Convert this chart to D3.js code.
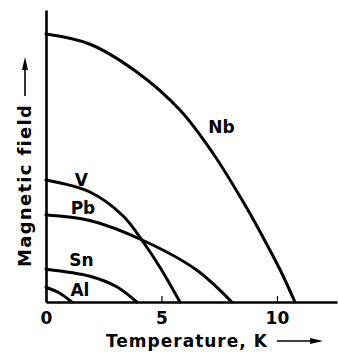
<!DOCTYPE html>
<html><head><meta charset="utf-8">
<script src="https://cdn.jsdelivr.net/npm/d3@7"></script>
<style>
html,body{margin:0;padding:0;background:#fff;}
svg text{font-family:"DejaVu Sans",sans-serif;font-weight:bold;fill:#000;}
</style></head>
<body><svg id="c" width="338" height="352"></svg>
<script>
// Temperature (K) and critical field (relative units)
const materials = ["Nb", "V", "Pb", "Sn", "Al"];
const nbT = [0, 1.88, 3.93, 5.8, 7.23, 8.7, 9.39, 10.13, 10.78];
const nbH = [107.2, 103.2, 92, 76.8, 59.5, 37.5, 26, 13, 0];
const vT  = [0, 1.9, 3.33, 4.21, 4.94, 5.8];
const vH  = [48.8, 44, 34.5, 24, 13.8, 0];
const pbT = [0, 1.9, 4.21, 6.52, 8.04];
const pbH = [34.8, 32.6, 24.6, 12.8, 0];
const snT = [0, 1.9, 3.06, 3.93];
const snH = [13.1, 10.3, 6.1, 0];
const alT = [0, 0.6, 1.11];
const alH = [5.9, 3.5, 0];
// label anchor points (T, H) for each curve name
const labelT = [7.6, 1.53, 1.6, 1.53, 1.47];
const labelH = [70, 48.8, 37.6, 16.8, 5];
const xTicks = [0, 5, 10];
const xTitle = "Temperature, K";
const yTitle = "Magnetic field";

const seriesT = [nbT, vT, pbT, snT, alT];
const seriesH = [nbH, vH, pbH, snH, alH];

const svg = d3.select("#c");
const x = d3.scaleLinear().domain([0, 12.6]).range([46, 337]);
const y = d3.scaleLinear().domain([0, 116.8]).range([302, 10]);

// axes
const xAxis = svg.append("g").attr("transform", "translate(0," + y(0) + ")")
  .call(d3.axisBottom(x).tickValues(xTicks).tickSizeInner(-6).tickSizeOuter(0).tickPadding(10).tickFormat(d3.format("d")));
xAxis.select(".domain").attr("stroke", "#000").attr("stroke-width", 2.6);
xAxis.selectAll(".tick line").attr("stroke", "#000").attr("stroke-width", 1.2);
xAxis.selectAll(".tick text").attr("font-size", 17).attr("font-family", "DejaVu Sans").attr("font-weight", "bold").attr("fill", "#000");

const yAxis = svg.append("g").attr("transform", "translate(" + x(0) + ",0)")
  .call(d3.axisLeft(y).tickValues([]).tickSizeOuter(0));
yAxis.select(".domain").attr("stroke", "#000").attr("stroke-width", 2.6);

// curves
const line = d3.line().x(d => x(d[0])).y(d => y(d[1])).curve(d3.curveCatmullRom.alpha(0.5));
materials.forEach((m, i) => {
  const pts = seriesT[i].map((t, j) => [t, seriesH[i][j]]);
  svg.append("path").attr("d", line(pts)).attr("fill", "none")
    .attr("stroke", "#000").attr("stroke-width", 3).attr("stroke-linecap", "round");
  svg.append("text").attr("x", x(labelT[i])).attr("y", y(labelH[i]))
    .attr("text-anchor", "middle").attr("dominant-baseline", "central")
    .attr("font-size", 17).text(m);
});

// axis titles with arrows
const xt = svg.append("text").attr("x", 106).attr("y", 347).attr("font-size", 17)
  .attr("letter-spacing", 1).text(xTitle);
const xw = xt.node().getComputedTextLength();
const ax0 = 106 + xw + 9, ax1 = 323, ay = 341;
svg.append("line").attr("x1", ax0).attr("x2", ax1 - 8).attr("y1", ay).attr("y2", ay)
  .attr("stroke", "#000").attr("stroke-width", 1.6);
svg.append("path").attr("d", `M${ax1},${ay} L${ax1-13},${ay-3} L${ax1-13},${ay+3} Z`).attr("fill", "#000");

const yt = svg.append("text").attr("transform", "translate(31,267) rotate(-90)")
  .attr("font-size", 18).attr("letter-spacing", 1.3).text(yTitle);
const bx = 25, by0 = 96, by1 = 57;
svg.append("line").attr("x1", bx).attr("x2", bx).attr("y1", by0).attr("y2", by1 + 8)
  .attr("stroke", "#000").attr("stroke-width", 1.6);
svg.append("path").attr("d", `M${bx},${by1} L${bx-3},${by1+13} L${bx+3},${by1+13} Z`).attr("fill", "#000");
</script></body></html>
